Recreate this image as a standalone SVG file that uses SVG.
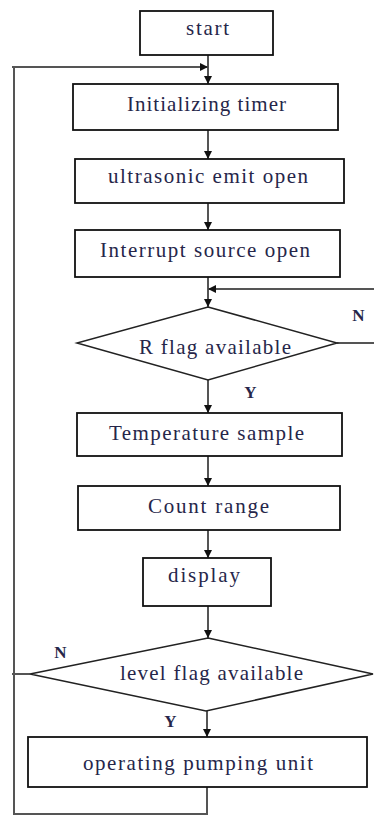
<svg xmlns="http://www.w3.org/2000/svg" width="374" height="816" viewBox="0 0 374 816">
<style>
.box{fill:#fff;stroke:#111;stroke-width:1.8}
.dia{fill:#fff;stroke:#222;stroke-width:1.5}
.t{font-family:"Liberation Serif","Times New Roman",serif;font-size:21px;fill:#26264a;text-anchor:middle}
.lbl{font-family:"Liberation Serif","Times New Roman",serif;font-size:17px;font-weight:bold;fill:#26264a;text-anchor:middle}
.c{fill:none;stroke:#555;stroke-width:2}
</style>
<defs>
<marker id="ah" viewBox="0 0 10 10" refX="10" refY="5" markerWidth="4" markerHeight="4" orient="auto" markerUnits="strokeWidth">
<path d="M0,0 L10,5 L0,10 z" fill="#111"/>
</marker>
</defs>
<g id="connectors">
<path class="c" d="M208,55 V84" marker-end="url(#ah)"/>
<path class="c" d="M208,130 V159" marker-end="url(#ah)"/>
<path class="c" d="M208,203 V230" marker-end="url(#ah)"/>
<path class="c" d="M208,277 V307" marker-end="url(#ah)"/>
<path class="c" d="M208,380 V413" marker-end="url(#ah)"/>
<path class="c" d="M208,456 V486" marker-end="url(#ah)"/>
<path class="c" d="M208,530 V558" marker-end="url(#ah)"/>
<path class="c" d="M208,606 V638" marker-end="url(#ah)"/>
<path class="c" d="M207,711 V737" marker-end="url(#ah)"/>
<path class="c" d="M207,787 V814 H14 V67 H12 M14,67 H208" marker-end="url(#ah)"/>
<path class="c" d="M30,674 H12"/>
<path class="c" d="M337,343 H376 V289 H208" marker-end="url(#ah)"/>
</g>
<g id="start"><rect class="box" x="140" y="11" width="133" height="44"/><text class="t" x="207.5" y="35" textLength="43" lengthAdjust="spacing">start</text></g>
<g id="init"><rect class="box" x="73" y="84" width="265" height="46"/><text class="t" x="206.5" y="111" textLength="159" lengthAdjust="spacing">Initializing  timer</text></g>
<g id="ultra"><rect class="box" x="75" y="159" width="269" height="44"/><text class="t" x="208" y="183" textLength="200" lengthAdjust="spacing">ultrasonic emit open</text></g>
<g id="interrupt"><rect class="box" x="75" y="230" width="265" height="47"/><text class="t" x="205" y="257" textLength="210" lengthAdjust="spacing">Interrupt source open</text></g>
<g id="rflag"><polygon class="dia" points="208,307 337,343 208,380 77,343"/><text class="t" x="215" y="354" textLength="152" lengthAdjust="spacing">R flag available</text></g>
<g id="temp"><rect class="box" x="77" y="413" width="265" height="43"/><text class="t" x="206.5" y="440" textLength="195" lengthAdjust="spacing">Temperature sample</text></g>
<g id="count"><rect class="box" x="78" y="486" width="262" height="44"/><text class="t" x="208.5" y="513" textLength="121" lengthAdjust="spacing">Count range</text></g>
<g id="display"><rect class="box" x="143" y="558" width="128" height="48"/><text class="t" x="204" y="582" textLength="72" lengthAdjust="spacing">display</text></g>
<g id="level"><polygon class="dia" points="208,638 373,674 206,711 30,674"/><text class="t" x="211.5" y="680" textLength="183" lengthAdjust="spacing">level flag available</text></g>
<g id="pump"><rect class="box" x="28" y="737" width="339" height="50"/><text class="t" x="198" y="770" textLength="230" lengthAdjust="spacing">operating pumping unit</text></g>
<g id="labels">
<text class="lbl" x="358.5" y="321">N</text>
<text class="lbl" x="250.5" y="398">Y</text>
<text class="lbl" x="60.5" y="658">N</text>
<text class="lbl" x="170.5" y="727">Y</text>
</g>
</svg>
